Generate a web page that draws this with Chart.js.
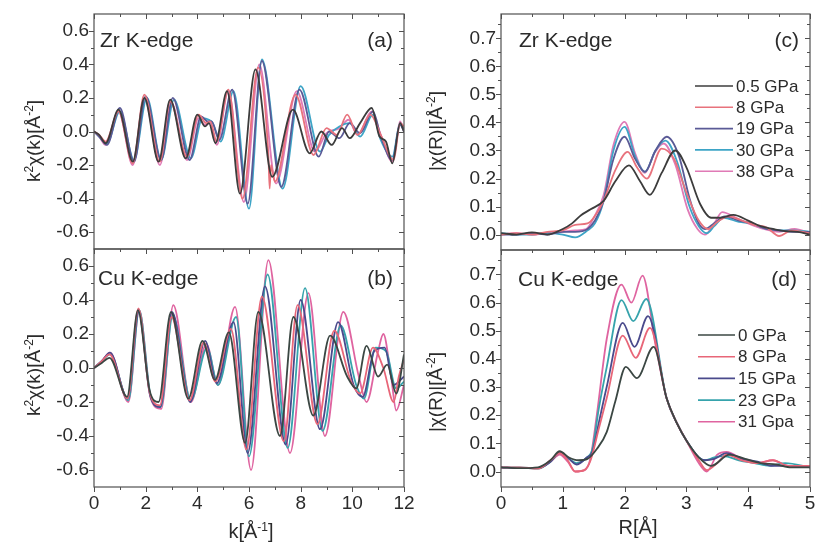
<!DOCTYPE html>
<html>
<head>
<meta charset="utf-8">
<script src="https://cdn.jsdelivr.net/npm/chart.js@4.4.0/dist/chart.umd.min.js"></script>
<style>
  html, body { margin: 0; padding: 0; background: #fff; }
  #fig { position: relative; width: 817px; height: 545px; overflow: hidden;
         font-family: "Liberation Sans", Arial, sans-serif; color: #2b2b2b; }
  #fig canvas { position: absolute; }
  .ttl { position: absolute; white-space: nowrap; font-size: 19px; line-height: 1;
         transform: translate(-50%, -50%); }
  .ttl.rot { transform: translate(-50%, -50%) rotate(-90deg); }
  .ttl sup { font-size: 12px; vertical-align: 0.55em; line-height: 0; }
  .ttl.big { font-size: 20px; }
</style>
</head>
<body>
<div id="fig">
  <canvas id="pa" width="420" height="255" style="left:0;top:0"></canvas>
  <canvas id="pb" width="420" height="305" style="left:0;top:240px"></canvas>
  <canvas id="pc" width="397" height="256" style="left:420px;top:0"></canvas>
  <canvas id="pd" width="397" height="305" style="left:420px;top:240px"></canvas>
  <div class="ttl rot" style="left:33px;top:141px">k<sup>2</sup>χ(k)[Å<sup>-2</sup>]</div>
  <div class="ttl rot" style="left:33px;top:375px">k<sup>2</sup>χ(k)[Å<sup>-2</sup>]</div>
  <div class="ttl rot" style="left:435px;top:131px">|χ(R)|[Å<sup>-2</sup>]</div>
  <div class="ttl rot" style="left:435px;top:392px">|χ(R)|[Å<sup>-2</sup>]</div>
  <div class="ttl big" style="left:251px;top:531px">k[Å<sup>-1</sup>]</div>
  <div class="ttl big" style="left:638px;top:527px">R[Å]</div>
</div>
<script>
// ---- axis ticks ----
const kTicks = [0, 2, 4, 6, 8, 10, 12];
const kMinor = [1, 3, 5, 7, 9, 11];
const chiTicks = [-0.6, -0.4, -0.2, 0, 0.2, 0.4, 0.6];
const chiMinor = [-0.5, -0.3, -0.1, 0.1, 0.3, 0.5];
const rTicks = [0, 1, 2, 3, 4, 5];
const rMinor = [0.5, 1.5, 2.5, 3.5, 4.5];
const ftTicks = [0, 0.1, 0.2, 0.3, 0.4, 0.5, 0.6, 0.7];
const ftMinor = [0.05, 0.15, 0.25, 0.35, 0.45, 0.55, 0.65, 0.75];

// ---- series names ----
const zrLabels = ['0.5 GPa', '8 GPa', '19 GPa', '30 GPa', '38 GPa'];
const cuLabels = ['0 GPa', '8 GPa', '15 GPa', '23 GPa', '31 Gpa'];

// ---- (a) Zr K-edge, k^2 chi(k) ----
const zrK_05 = [0, 0.2, 0.45, 0.95, 1.5, 1.95, 2.5, 2.95, 3.55, 4.0, 4.3, 4.45, 4.7, 5.15, 5.65, 6.25, 6.9, 7.7, 8.35, 8.8, 9.2, 9.6, 9.9, 10.3, 10.75, 11.05, 11.3, 11.55, 11.85, 12];
const zrChi_05 = [0, -0.02, -0.07, 0.13, -0.18, 0.2, -0.18, 0.19, -0.16, 0.1, 0.03, 0.05, -0.07, 0.24, -0.37, 0.37, -0.27, 0.13, -0.13, 0.0, -0.08, 0.02, -0.04, 0.05, 0.14, -0.03, -0.06, -0.19, 0.05, 0.0];
const zrK_8 = [0, 0.2, 0.45, 0.95, 1.5, 1.95, 2.55, 2.95, 3.6, 4.05, 4.35, 4.5, 4.75, 5.2, 5.75, 6.35, 6.75, 6.8, 6.85, 7.0, 7.8, 8.5, 9.0, 9.4, 9.8, 10.2, 10.7, 11.1, 11.6, 11.85, 12];
const zrChi_8 = [0, -0.02, -0.06, 0.12, -0.19, 0.22, -0.18, 0.18, -0.15, 0.1, 0.05, 0.06, -0.06, 0.25, -0.4, 0.38, -0.14, -0.34, -0.2, -0.3, 0.22, -0.14, 0.02, -0.02, 0.1, -0.02, 0.1, -0.02, -0.17, 0.05, 0.03];
const zrK_19 = [0, 0.2, 0.5, 1.0, 1.55, 2.0, 2.6, 3.05, 3.7, 4.15, 4.4, 4.55, 4.85, 5.35, 5.95, 6.5, 7.25, 7.95, 8.7, 9.1, 9.5, 9.9, 10.3, 10.8, 11.1, 11.55, 11.85, 12];
const zrChi_19 = [0, -0.03, -0.08, 0.14, -0.18, 0.21, -0.17, 0.2, -0.17, 0.09, 0.06, 0.06, -0.05, 0.25, -0.43, 0.42, -0.33, 0.25, -0.15, 0.0, -0.04, 0.05, -0.01, 0.12, -0.03, -0.17, 0.04, 0.0];
const zrK_30 = [0, 0.2, 0.5, 1.0, 1.55, 2.05, 2.6, 3.1, 3.75, 4.2, 4.45, 4.6, 4.9, 5.4, 6.0, 6.5, 7.3, 8.0, 8.75, 9.1, 9.5, 9.9, 10.3, 10.8, 11.1, 11.55, 11.85, 12];
const zrChi_30 = [0, -0.03, -0.07, 0.12, -0.17, 0.2, -0.17, 0.19, -0.16, 0.08, 0.07, 0.05, -0.06, 0.24, -0.46, 0.43, -0.34, 0.27, -0.12, -0.02, 0.03, 0.05, -0.03, 0.1, -0.05, -0.15, 0.05, 0.02];
const zrK_38 = [0, 0.2, 0.45, 0.95, 1.5, 1.95, 2.55, 3.0, 3.6, 4.05, 4.3, 4.5, 4.75, 5.2, 5.8, 6.4, 7.05, 7.85, 8.55, 9.0, 9.5, 9.85, 10.2, 10.75, 11.1, 11.55, 11.85, 12];
const zrChi_38 = [0, -0.03, -0.08, 0.12, -0.2, 0.2, -0.2, 0.17, -0.17, 0.08, 0.04, 0.05, -0.08, 0.24, -0.42, 0.4, -0.31, 0.24, -0.12, -0.01, 0.02, 0.07, -0.02, 0.12, -0.02, -0.18, 0.06, 0.0];

// ---- (b) Cu K-edge, k^2 chi(k) ----
const cuK_0 = [0, 0.3, 0.6, 1.28, 1.7, 2.15, 2.5, 2.98, 3.65, 4.2, 4.68, 5.22, 5.85, 6.36, 7.2, 7.72, 8.49, 9.14, 9.8, 10.15, 10.55, 11.0, 11.35, 11.7, 12];
const cuChi_0 = [0, 0.03, 0.06, -0.17, 0.34, -0.13, -0.2, 0.33, -0.18, 0.16, -0.07, 0.21, -0.44, 0.33, -0.4, 0.3, -0.28, 0.19, -0.05, -0.12, 0.13, -0.05, 0.02, -0.15, 0.08];
const cuK_8 = [0, 0.3, 0.6, 1.3, 1.72, 2.15, 2.55, 3.0, 3.7, 4.25, 4.7, 5.3, 5.9, 6.5, 7.35, 7.88, 8.65, 9.3, 9.95, 10.3, 10.8, 11.2, 11.6, 11.8, 12];
const cuChi_8 = [0, 0.04, 0.08, -0.18, 0.35, -0.14, -0.22, 0.3, -0.19, 0.15, -0.08, 0.23, -0.48, 0.42, -0.43, 0.37, -0.33, 0.22, -0.08, -0.15, 0.12, 0.0, -0.2, -0.05, 0.05];
const cuK_15 = [0, 0.3, 0.62, 1.3, 1.73, 2.17, 2.56, 3.02, 3.72, 4.3, 4.75, 5.4, 5.95, 6.62, 7.42, 8.0, 8.75, 9.45, 10.05, 10.4, 10.85, 11.25, 11.6, 12];
const cuChi_15 = [0, 0.04, 0.09, -0.18, 0.33, -0.16, -0.23, 0.33, -0.2, 0.16, -0.09, 0.27, -0.5, 0.48, -0.45, 0.4, -0.36, 0.27, -0.1, -0.17, 0.1, 0.12, -0.1, -0.05];
const cuK_23 = [0, 0.3, 0.62, 1.33, 1.75, 2.2, 2.58, 3.05, 3.75, 4.38, 4.8, 5.5, 6.0, 6.72, 7.5, 8.17, 8.85, 9.55, 10.15, 10.45, 10.9, 11.3, 11.7, 12];
const cuChi_23 = [0, 0.04, 0.08, -0.19, 0.34, -0.17, -0.23, 0.31, -0.19, 0.12, -0.1, 0.3, -0.52, 0.55, -0.47, 0.47, -0.37, 0.25, -0.1, -0.18, 0.12, 0.1, -0.12, -0.08];
const cuK_31 = [0, 0.3, 0.62, 1.33, 1.75, 2.2, 2.6, 3.07, 3.75, 4.35, 4.8, 5.46, 6.08, 6.75, 7.59, 8.3, 8.94, 9.65, 10.25, 10.55, 11.0, 11.2, 11.5, 11.7, 12];
const cuChi_31 = [0, 0.04, 0.09, -0.2, 0.34, -0.18, -0.24, 0.37, -0.2, 0.14, -0.1, 0.36, -0.6, 0.635, -0.5, 0.44, -0.4, 0.33, -0.05, -0.2, 0.1, 0.2, -0.05, -0.25, -0.1];

// ---- (c) Zr K-edge, |chi(R)| ----
const zrR_05 = [0, 0.25, 0.5, 0.75, 1.0, 1.15, 1.3, 1.45, 1.66, 1.85, 2.07, 2.25, 2.41, 2.6, 2.82, 3.0, 3.22, 3.4, 3.55, 3.76, 4.0, 4.2, 4.4, 4.6, 4.8, 5.0];
const zrFt_05 = [0.005, 0.0, 0.008, 0.0, 0.02, 0.04, 0.07, 0.09, 0.12, 0.19, 0.247, 0.19, 0.142, 0.22, 0.3, 0.24, 0.11, 0.06, 0.06, 0.07, 0.05, 0.03, 0.02, 0.012, 0.01, 0.0];
const zrR_8 = [0, 0.25, 0.5, 0.75, 1.0, 1.2, 1.4, 1.5, 1.66, 1.85, 2.05, 2.2, 2.36, 2.6, 2.8, 3.0, 3.2, 3.35, 3.5, 3.68, 3.9, 4.1, 4.3, 4.5, 4.7, 5.0];
const zrFt_8 = [0.0, 0.005, 0.0, 0.01, 0.015, 0.035, 0.04, 0.06, 0.12, 0.23, 0.295, 0.24, 0.2, 0.307, 0.27, 0.15, 0.05, 0.02, 0.045, 0.065, 0.05, 0.035, 0.025, -0.005, 0.015, 0.005];
const zrR_19 = [0, 0.25, 0.5, 0.75, 1.0, 1.2, 1.4, 1.52, 1.66, 1.82, 2.0, 2.17, 2.33, 2.5, 2.68, 2.88, 3.05, 3.2, 3.3, 3.45, 3.62, 3.85, 4.05, 4.3, 4.5, 4.7, 5.0];
const zrFt_19 = [0.0, 0.0, 0.005, 0.0, 0.01, 0.01, 0.02, 0.05, 0.12, 0.27, 0.349, 0.27, 0.224, 0.3, 0.349, 0.28, 0.13, 0.04, 0.02, 0.04, 0.065, 0.05, 0.04, 0.02, 0.015, 0.01, 0.01];
const zrR_30 = [0, 0.25, 0.5, 0.75, 1.0, 1.2, 1.4, 1.52, 1.66, 1.82, 2.0, 2.17, 2.33, 2.5, 2.66, 2.85, 3.05, 3.2, 3.33, 3.45, 3.6, 3.85, 4.05, 4.3, 4.5, 4.7, 5.0];
const zrFt_30 = [0.005, 0.0, 0.0, 0.005, 0.0, -0.01, 0.015, 0.04, 0.12, 0.3, 0.384, 0.28, 0.224, 0.3, 0.335, 0.26, 0.1, 0.03, 0.005, 0.03, 0.06, 0.045, 0.04, 0.02, 0.015, 0.015, 0.01];
const zrR_38 = [0, 0.25, 0.5, 0.75, 1.0, 1.2, 1.38, 1.5, 1.66, 1.82, 2.0, 2.17, 2.33, 2.48, 2.63, 2.82, 3.02, 3.18, 3.3, 3.45, 3.58, 3.8, 4.0, 4.25, 4.5, 4.75, 5.0];
const zrFt_38 = [0.0, 0.005, 0.0, 0.005, 0.01, 0.015, 0.02, 0.06, 0.14, 0.32, 0.402, 0.29, 0.22, 0.29, 0.325, 0.25, 0.09, 0.02, 0.0, 0.04, 0.08, 0.06, 0.04, 0.02, 0.01, 0.02, 0.005];

// ---- (d) Cu K-edge, |chi(R)| ----
const cuR_0 = [0, 0.3, 0.6, 0.8, 0.95, 1.1, 1.25, 1.4, 1.55, 1.71, 1.85, 2.02, 2.2, 2.47, 2.68, 2.85, 3.0, 3.2, 3.4, 3.7, 3.95, 4.2, 4.45, 4.7, 5.0];
const cuFt_0 = [0.015, 0.012, 0.015, 0.04, 0.072, 0.05, 0.04, 0.045, 0.08, 0.14, 0.25, 0.372, 0.332, 0.443, 0.26, 0.17, 0.11, 0.05, 0.02, 0.06, 0.045, 0.03, 0.025, 0.015, 0.015];
const cuR_8 = [0, 0.3, 0.6, 0.8, 0.95, 1.08, 1.2, 1.35, 1.45, 1.58, 1.71, 1.97, 2.18, 2.41, 2.68, 2.85, 3.0, 3.2, 3.33, 3.5, 3.65, 3.9, 4.15, 4.4, 4.65, 5.0];
const cuFt_8 = [0.015, 0.015, 0.01, 0.04, 0.065, 0.04, 0.0, 0.005, 0.04, 0.15, 0.26, 0.483, 0.404, 0.51, 0.26, 0.17, 0.11, 0.04, 0.005, 0.03, 0.06, 0.04, 0.03, 0.04, 0.02, 0.02];
const cuR_15 = [0, 0.3, 0.6, 0.8, 0.95, 1.1, 1.22, 1.39, 1.48, 1.58, 1.71, 1.97, 2.16, 2.38, 2.68, 2.85, 3.0, 3.2, 3.3, 3.45, 3.65, 3.9, 4.15, 4.4, 4.65, 5.0];
const cuFt_15 = [0.015, 0.012, 0.012, 0.035, 0.068, 0.045, 0.025, 0.05, 0.07, 0.17, 0.3, 0.528, 0.443, 0.552, 0.26, 0.17, 0.11, 0.05, 0.04, 0.045, 0.065, 0.045, 0.035, 0.02, 0.02, 0.015];
const cuR_23 = [0, 0.3, 0.6, 0.8, 0.95, 1.1, 1.22, 1.39, 1.48, 1.58, 1.71, 1.95, 2.14, 2.35, 2.68, 2.85, 3.0, 3.2, 3.3, 3.45, 3.6, 3.85, 4.1, 4.35, 4.6, 5.0];
const cuFt_23 = [0.015, 0.015, 0.01, 0.035, 0.066, 0.045, 0.03, 0.05, 0.08, 0.22, 0.37, 0.609, 0.534, 0.613, 0.26, 0.17, 0.11, 0.05, 0.04, 0.05, 0.055, 0.04, 0.03, 0.02, 0.03, 0.015];
const cuR_31 = [0, 0.3, 0.6, 0.8, 0.95, 1.08, 1.2, 1.35, 1.44, 1.55, 1.71, 1.95, 2.11, 2.29, 2.5, 2.68, 2.85, 3.0, 3.2, 3.33, 3.5, 3.65, 3.9, 4.15, 4.4, 4.65, 5.0];
const cuFt_31 = [0.015, 0.012, 0.012, 0.035, 0.06, 0.035, 0.0, 0.005, 0.04, 0.2, 0.47, 0.664, 0.6, 0.696, 0.45, 0.26, 0.17, 0.11, 0.03, 0.0, 0.06, 0.07, 0.045, 0.03, 0.04, 0.02, 0.02];

// ---- styling ----
const FONT = '"Liberation Sans", Arial, sans-serif';
const INK = '#2b2b2b';
const zrColors = ['#3c3c3c', '#e8727c', '#5a5a96', '#3da4c6', '#e07ab6'];
const cuColors = ['#3b4743', '#e86678', '#4a4a8c', '#36a3ac', '#df64a0'];

function pts(xs, ys) { return xs.map((x, i) => ({ x: x, y: ys[i] })); }

function series(labels, colors, xsList, ysList) {
  return labels.map((lab, i) => ({
    label: lab,
    data: pts(xsList[i], ysList[i]),
    borderColor: colors[i],
    borderWidth: 1.8,
    pointRadius: 0,
    fill: false,
    cubicInterpolationMode: 'monotone'
  }));
}

// frame, tick marks, panel captions and in-plot legend
function decor(spec) {
  return {
    id: 'decor',
    afterDatasetsDraw(chart) {
      const { ctx, chartArea: a, scales } = chart;
      const xs = scales.x, ys = scales.y;
      const seg = (x1, y1, x2, y2) => { ctx.beginPath(); ctx.moveTo(x1, y1); ctx.lineTo(x2, y2); ctx.stroke(); };
      ctx.save();
      ctx.strokeStyle = '#505050';
      ctx.lineWidth = 1.2;
      ctx.strokeRect(a.left, a.top, a.right - a.left, a.bottom - a.top);
      ctx.lineWidth = 1;
      const xt = (vals, len) => vals.forEach(v => {
        const p = Math.round(xs.getPixelForValue(v)) + 0.5;
        seg(p, a.top, p, a.top + len);
        if (spec.bottomOut) seg(p, a.bottom, p, a.bottom + len);
      });
      const yt = (vals, len) => vals.forEach(v => {
        const p = Math.round(ys.getPixelForValue(v)) + 0.5;
        seg(a.left - len, p, a.left, p);
        seg(a.right - len, p, a.right, p);
      });
      xt(spec.xMajor, 5); xt(spec.xMinor, 3);
      yt(spec.yMajor, 5); yt(spec.yMinor, 3);

      ctx.fillStyle = INK;
      ctx.font = '21px ' + FONT;
      ctx.textBaseline = 'alphabetic';
      ctx.textAlign = 'left';
      ctx.fillText(spec.title, a.left + spec.titleDx, spec.titleY);
      ctx.textAlign = 'right';
      ctx.fillText(spec.tag, a.right - spec.tagDx, spec.titleY);

      if (spec.legend) {
        const L = spec.legend;
        ctx.font = '17px ' + FONT;
        ctx.textAlign = 'left';
        ctx.textBaseline = 'middle';
        chart.data.datasets.forEach((ds, i) => {
          const yy = L.y + i * L.dy;
          ctx.strokeStyle = ds.borderColor;
          ctx.lineWidth = 1.6;
          seg(L.x1, yy, L.x2, yy);
          ctx.fillStyle = INK;
          ctx.fillText(ds.label, L.x2 + 3, yy + 1);
        });
      }
      ctx.restore();
    }
  };
}

function panel(id, p) {
  const ticksFont = { family: FONT, size: 19 };
  new Chart(document.getElementById(id), {
    type: 'line',
    data: { datasets: p.datasets },
    options: {
      responsive: false,
      animation: false,
      devicePixelRatio: 1,
      layout: { padding: p.padding },
      plugins: { legend: { display: false }, tooltip: { enabled: false } },
      scales: {
        x: {
          type: 'linear', min: p.xMin, max: p.xMax,
          grid: { display: false, drawTicks: false },
          border: { display: false },
          afterBuildTicks: s => { s.ticks = p.xMajor.map(v => ({ value: v })); },
          afterFit: s => { s.height = p.xHeight; s.paddingLeft = 0; s.paddingRight = 0; },
          ticks: { display: p.showX, padding: 5, color: INK, font: ticksFont, autoSkip: false, maxRotation: 0,
                   callback: v => String(v) }
        },
        y: {
          type: 'linear', min: p.yMin, max: p.yMax,
          grid: { display: false, drawTicks: false },
          border: { display: false },
          afterBuildTicks: s => { s.ticks = p.yMajor.map(v => ({ value: v })); },
          afterFit: s => { s.width = p.yWidth; s.paddingTop = 0; s.paddingBottom = 0; },
          ticks: { padding: 5, color: INK, font: ticksFont, callback: v => v.toFixed(1) }
        }
      }
    },
    plugins: [decor(p.decor)]
  });
}

// (a)
panel('pa', {
  datasets: series(zrLabels, zrColors,
    [zrK_05, zrK_8, zrK_19, zrK_30, zrK_38], [zrChi_05, zrChi_8, zrChi_19, zrChi_30, zrChi_38]),
  xMin: 0, xMax: 12, yMin: -0.7, yMax: 0.7, xMajor: kTicks, yMajor: chiTicks,
  padding: { top: 14, right: 16, bottom: 0, left: 0 }, yWidth: 94, xHeight: 6, showX: false,
  decor: { xMajor: kTicks, xMinor: kMinor, yMajor: chiTicks, yMinor: chiMinor, bottomOut: false,
           title: 'Zr K-edge', tag: '(a)', titleDx: 6, tagDx: 11, titleY: 47 }
});
// (b)
panel('pb', {
  datasets: series(cuLabels, cuColors,
    [cuK_0, cuK_8, cuK_15, cuK_23, cuK_31], [cuChi_0, cuChi_8, cuChi_15, cuChi_23, cuChi_31]),
  xMin: 0, xMax: 12, yMin: -0.7, yMax: 0.7, xMajor: kTicks, yMajor: chiTicks,
  padding: { top: 9, right: 16, bottom: 0, left: 0 }, yWidth: 94, xHeight: 58, showX: true,
  decor: { xMajor: kTicks, xMinor: kMinor, yMajor: chiTicks, yMinor: chiMinor, bottomOut: true,
           title: 'Cu K-edge', tag: '(b)', titleDx: 4, tagDx: 11, titleY: 45 }
});
// (c)
panel('pc', {
  datasets: series(zrLabels, zrColors,
    [zrR_05, zrR_8, zrR_19, zrR_30, zrR_38], [zrFt_05, zrFt_8, zrFt_19, zrFt_30, zrFt_38]),
  xMin: 0, xMax: 5, yMin: -0.055, yMax: 0.787, xMajor: rTicks, yMajor: ftTicks,
  padding: { top: 14, right: 7, bottom: 0, left: 0 }, yWidth: 81, xHeight: 6, showX: false,
  decor: { xMajor: rTicks, xMinor: rMinor, yMajor: ftTicks, yMinor: ftMinor, bottomOut: false,
           title: 'Zr K-edge', tag: '(c)', titleDx: 18, tagDx: 11, titleY: 47,
           legend: { x1: 275, x2: 313, y: 86, dy: 21.3 } }
});
// (d)
panel('pd', {
  datasets: series(cuLabels, cuColors,
    [cuR_0, cuR_8, cuR_15, cuR_23, cuR_31], [cuFt_0, cuFt_8, cuFt_15, cuFt_23, cuFt_31]),
  xMin: 0, xMax: 5, yMin: -0.055, yMax: 0.787, xMajor: rTicks, yMajor: ftTicks,
  padding: { top: 10, right: 7, bottom: 0, left: 0 }, yWidth: 81, xHeight: 58, showX: true,
  decor: { xMajor: rTicks, xMinor: rMinor, yMajor: ftTicks, yMinor: ftMinor, bottomOut: true,
           title: 'Cu K-edge', tag: '(d)', titleDx: 17, tagDx: 13, titleY: 46,
           legend: { x1: 278, x2: 315, y: 95, dy: 21.7 } }
});
</script>
</body>
</html>
